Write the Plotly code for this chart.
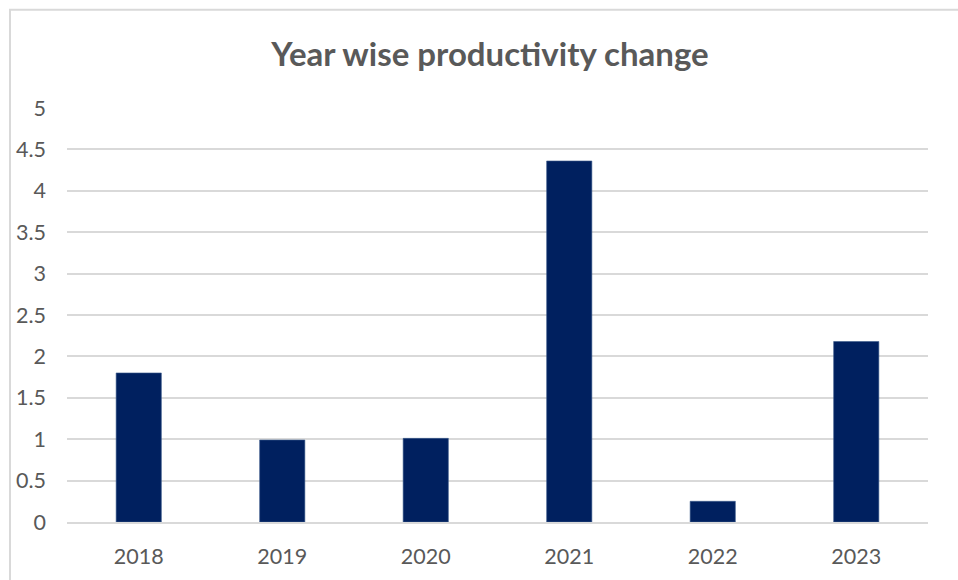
import plotly.graph_objects as go

# Productivity change per year
years = ["2018", "2019", "2020", "2021", "2022", "2023"]
productivity_change = [1.80, 0.99, 1.01, 4.36, 0.25, 2.18]

# Y-axis ticks
y_ticks = [0, 0.5, 1, 1.5, 2, 2.5, 3, 3.5, 4, 4.5, 5]
y_tick_labels = ["0", "0.5", "1", "1.5", "2", "2.5", "3", "3.5", "4", "4.5", "5"]

TEXT_GREY = "#595959"
GRID_GREY = "#d9d9d9"
BAR_BLUE = "#00205f"
FONT = "Lato, 'Open Sans', sans-serif"

fig = go.Figure(
    go.Bar(
        x=years,
        y=productivity_change,
        marker=dict(color=BAR_BLUE, line=dict(color="#3a5a8c", width=0.6)),
        width=0.315,
        hoverinfo="x+y",
    )
)

fig.update_layout(
    width=958,
    height=580,
    margin=dict(l=67, r=30, t=107.5, b=57.5),
    paper_bgcolor="white",
    plot_bgcolor="white",
    showlegend=False,
    title=dict(
        text="<b>Year wise productivity change</b>",
        font=dict(family=FONT, size=33, color=TEXT_GREY),
        x=490 / 958,
        xanchor="center",
        xref="container",
        y=1 - 54 / 580,
        yanchor="middle",
        yref="container",
    ),
    font=dict(family=FONT, color=TEXT_GREY),
)

fig.update_xaxes(
    type="category",
    showgrid=False,
    showline=True,
    linecolor=GRID_GREY,
    linewidth=1.5,
    ticks="",
    tickfont=dict(family=FONT, size=21.5, color=TEXT_GREY),
    ticklabelstandoff=14,
)

fig.update_yaxes(
    range=[0, 5],
    tickvals=y_ticks,
    ticktext=y_tick_labels,
    showgrid=True,
    gridcolor=GRID_GREY,
    gridwidth=1.5,
    zeroline=False,
    showline=False,
    ticks="",
    tickfont=dict(family=FONT, size=21.5, color=TEXT_GREY),
    ticklabelstandoff=20,
)

# Chart-area frame (left and top edges fall inside the canvas)
fig.add_shape(
    type="rect",
    xref="paper",
    yref="paper",
    x0=(10 - 67) / 861,
    x1=1.2,
    y0=-0.3,
    y1=1 + (107.5 - 9) / 415,
    line=dict(color=GRID_GREY, width=2),
    fillcolor="rgba(0,0,0,0)",
    layer="below",
)

fig.write_html("out.html")
